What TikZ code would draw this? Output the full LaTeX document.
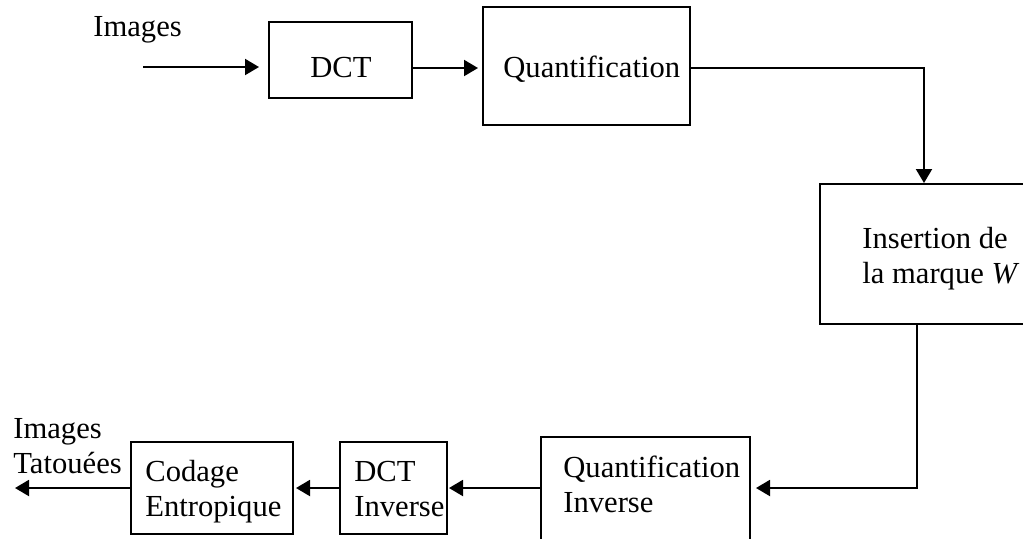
\documentclass[tikz,border=0pt]{standalone}
\usepackage{fontspec}
\setmainfont{Liberation Serif}
\usetikzlibrary{arrows.meta}

\begin{document}
\begin{tikzpicture}[x=0.5pt,y=-0.5pt,
  every node/.style={font=\fontsize{15.3}{17.5}\selectfont},
  blockbox/.style={draw, line width=1pt, rectangle, inner sep=0pt},
  label/.style={inner sep=0pt, align=left, anchor=base west},
  flow/.style={line width=1pt, -{Triangle[length=7pt,width=8pt]}},
  wire/.style={line width=1pt}]

\useasboundingbox (0,0) rectangle (1023,538);
\clip (0,0) rectangle (1023,538);

% processing blocks
\node[blockbox, minimum width=71.5pt, minimum height=38pt] (dct) at (340.5,60) {};
\node[blockbox, minimum width=103.5pt, minimum height=59pt] (quant) at (586.5,66) {};
\node[blockbox, minimum width=110pt, minimum height=70pt] (ins) at (930,254) {};
\node[blockbox, minimum width=104.5pt, minimum height=54pt] (qinv) at (645.5,491) {};
\node[blockbox, minimum width=53.5pt, minimum height=46pt] (dctinv) at (393.5,488) {};
\node[blockbox, minimum width=81pt, minimum height=46pt] (codage) at (212,488) {};

% block labels (base anchor of a two-line label sits on its last line)
\node[inner sep=0pt, anchor=base] (tdct) at (341,77) {DCT};
\node[label] (tquant) at (503,77) {Quantification};
\node[label] (tins) at (862,283) {Insertion de\\la marque \textit{W}};
\node[label] (tqinv) at (563,512) {Quantification\\Inverse};
\node[label] (tdctinv) at (354,516) {DCT\\Inverse};
\node[label] (tcodage) at (145,516) {Codage\\Entropique};

% input and output captions
\node[label] (tin) at (93,36) {Images};
\node[label] (tout) at (13,473) {Images\\Tatouées};

% free ends and bends of the signal path
\coordinate (src) at (143,67);
\coordinate (dst) at (15,488);
\coordinate (bendA) at (924,68);
\coordinate (bendB) at (917,488);

% signal path
\draw[flow, shorten >=4.5pt] (src) -- (src -| dct.west);
\draw[flow, shorten >=2pt] (dct.east |- 0,68) -- (quant.west |- 0,68);
\draw[flow] (quant.east |- bendA) -- (bendA) -- (bendA |- ins.north);
\draw[flow, shorten >=2.5pt] (bendB |- ins.south) -- (bendB) -- (qinv.east |- bendB);
\draw[flow, shorten >=0.5pt] (qinv.west |- 0,488) -- (dctinv.east |- 0,488);
\draw[flow, shorten >=1pt] (dctinv.west |- 0,488) -- (codage.east |- 0,488);
\draw[flow] (codage.west |- dst) -- (dst);

\end{tikzpicture}
\end{document}
